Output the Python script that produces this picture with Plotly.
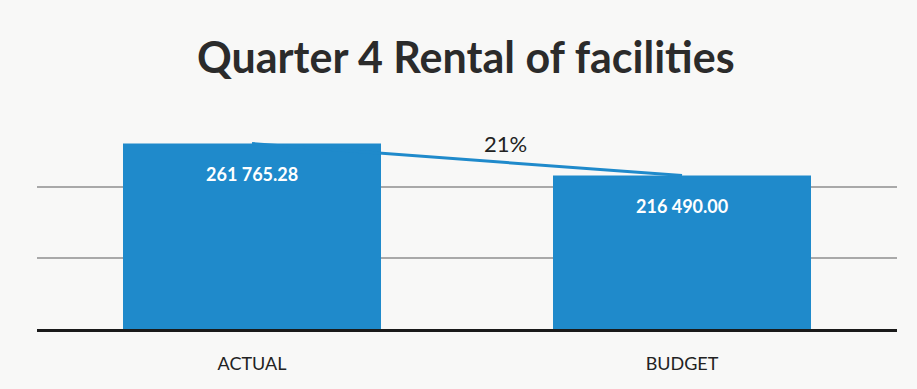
import plotly.graph_objects as go

categories = ["ACTUAL", "BUDGET"]
values = [261765.28, 216490.00]
value_labels = ["261 765.28", "216 490.00"]
variance_label = "21%"
title_text = "Quarter 4 Rental of facilities"

bar_color = "#1F8ACB"
bg = "#f8f8f7"

fig = go.Figure()
fig.add_trace(go.Bar(
    x=[0, 1], y=values, marker=dict(color=bar_color, line=dict(width=0)),
    width=0.6, hoverinfo="skip", showlegend=False,
))
fig.add_trace(go.Scatter(
    x=[0, 1], y=values, mode="lines",
    line=dict(color=bar_color, width=3), showlegend=False, hoverinfo="skip",
))

for i, (v, lab) in enumerate(zip(values, value_labels)):
    fig.add_annotation(x=i, y=v, text=f"<b>{lab}</b>", showarrow=False, yanchor="top",
                       yshift=-17, font=dict(family="Lato", size=18, color="white"))

fig.add_annotation(x=0.5, y=values[0], text=variance_label, showarrow=False,
                   yanchor="middle", yshift=0, xshift=38,
                   font=dict(family="Lato", size=22, color="#222222"))

fig.update_layout(
    width=917, height=389,
    margin=dict(l=37, r=20, t=120, b=60),
    paper_bgcolor=bg,
    plot_bgcolor=bg,
    title=dict(text=f"<b>{title_text}</b>", x=0.508, xanchor="center",
               y=0.85, yanchor="middle",
               font=dict(family="Lato", size=43, color="#2b2b2b")),
    bargap=0.4,
)
fig.update_xaxes(
    tickmode="array", tickvals=[0, 1], ticktext=categories,
    range=[-0.5, 1.5], showgrid=False, zeroline=False,
    showline=True, linecolor="#1a1a1a", linewidth=3,
    ticks="", tickfont=dict(family="Lato", size=18, color="#222222"),
    ticklabelstandoff=16,
)
fig.update_yaxes(
    range=[0, 295000], dtick=100000, showticklabels=False,
    showgrid=True, gridcolor="#a9a9a9", gridwidth=1.5,
    zeroline=False, showline=False,
)

fig.write_html("out.html")
